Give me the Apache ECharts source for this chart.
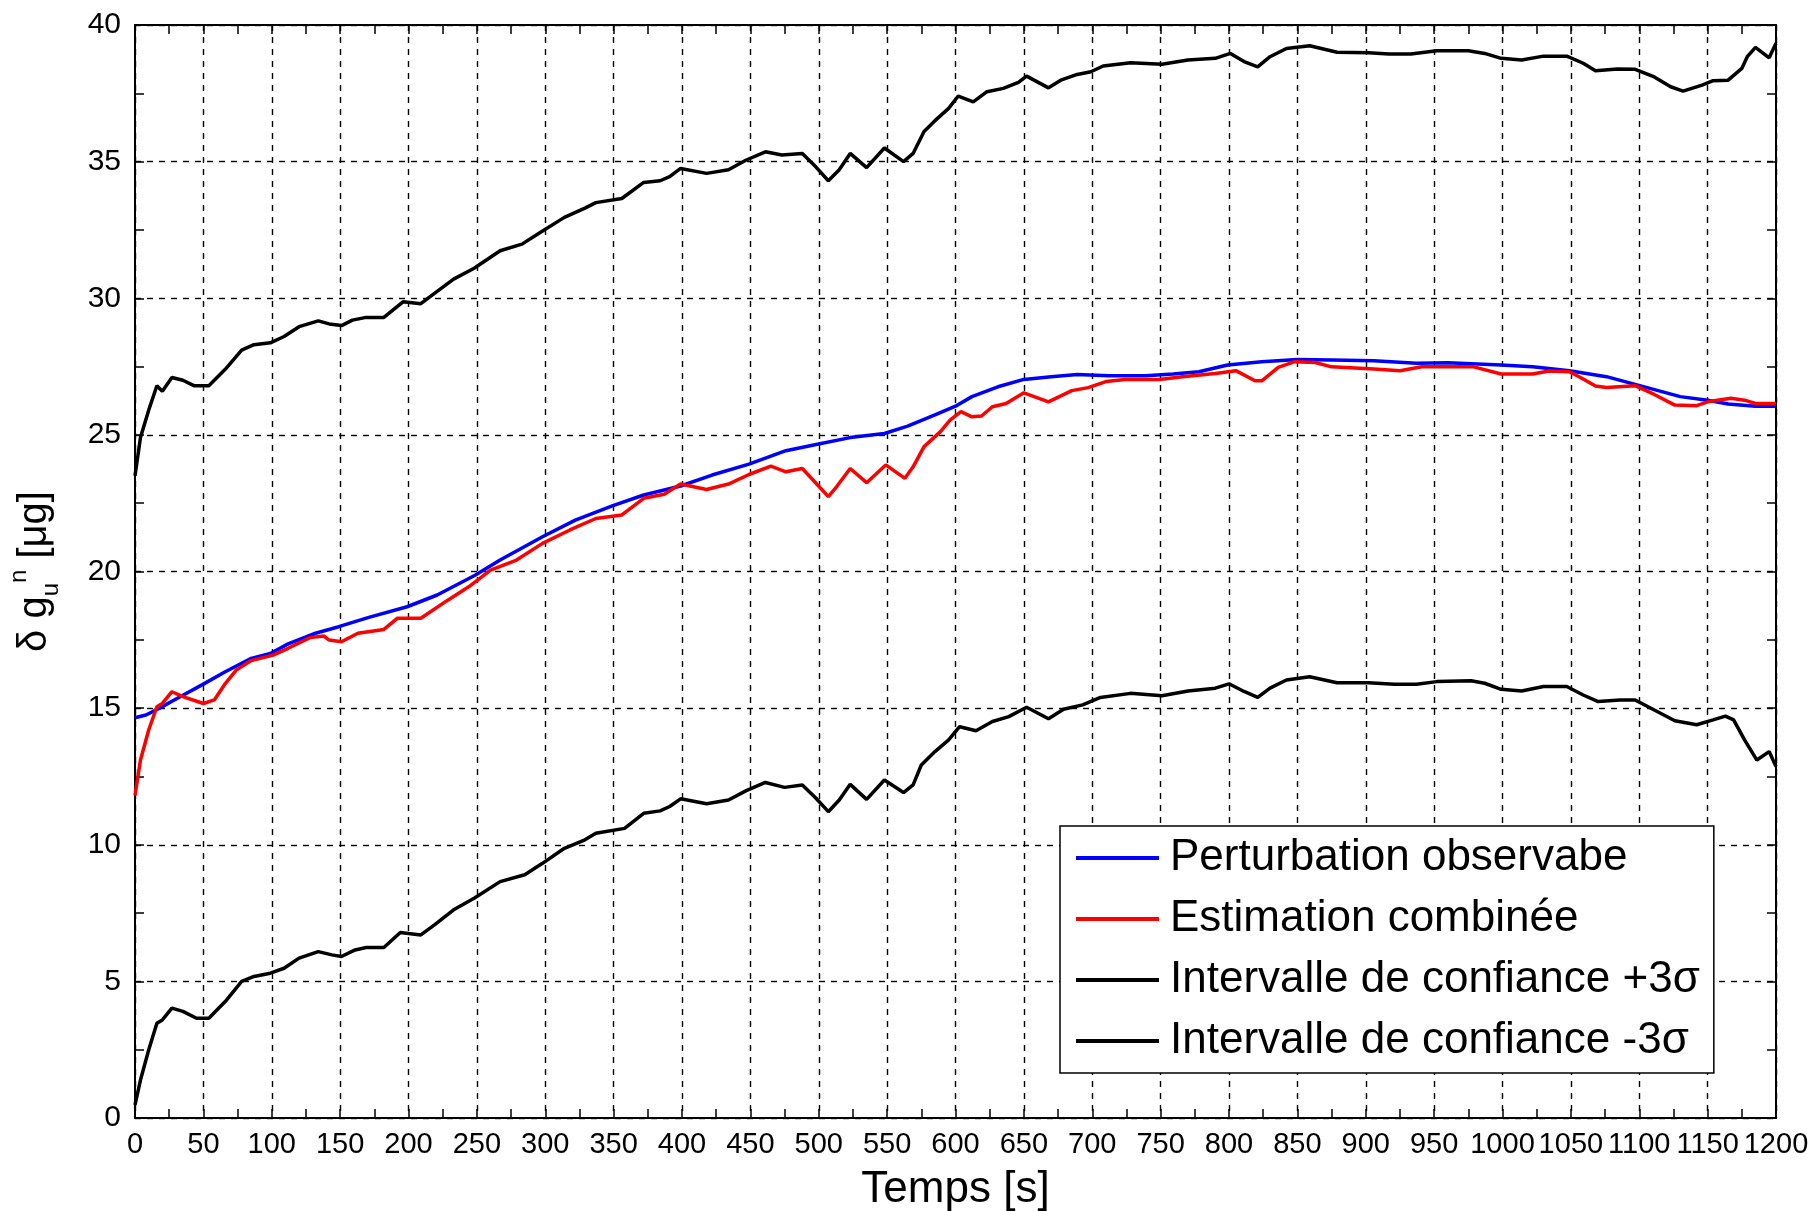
<!DOCTYPE html>
<html>
<head>
<meta charset="utf-8">
<script src="https://cdn.jsdelivr.net/npm/echarts@6/dist/echarts.min.js"></script>
<style>
  html, body { margin: 0; padding: 0; background: #fff; }
  #main { width: 1811px; height: 1211px; }
</style>
</head>
<body>
<div id="main"></div>
<script>
// values (time in s, value in µg)
var blueT = [0, 8, 18, 31, 49, 66, 85, 99, 112, 132, 149, 171, 199, 221, 249, 267, 298, 322, 349, 372, 399, 422, 449, 476, 499, 523, 548, 565, 585, 600, 612, 631, 650, 670, 689, 712, 739, 759, 778, 799, 824, 850, 875, 906, 937, 960, 999, 1022, 1049, 1076, 1099, 1130, 1150, 1165, 1185, 1200];
var blueV = [14.65, 14.75, 15.0, 15.36, 15.85, 16.33, 16.82, 17.0, 17.35, 17.74, 17.98, 18.32, 18.71, 19.14, 19.87, 20.42, 21.27, 21.88, 22.4, 22.8, 23.13, 23.53, 23.93, 24.42, 24.66, 24.9, 25.05, 25.32, 25.73, 26.05, 26.4, 26.76, 27.03, 27.13, 27.21, 27.16, 27.16, 27.23, 27.31, 27.56, 27.68, 27.76, 27.74, 27.71, 27.62, 27.64, 27.56, 27.49, 27.35, 27.13, 26.82, 26.4, 26.27, 26.13, 26.05, 26.05];

var redT = [0, 4, 10, 16, 20, 27, 35, 50, 58, 66, 74, 85, 101, 112, 128, 138, 142, 151, 163, 182, 192, 209, 229, 244, 260, 279, 298, 318, 337, 356, 372, 387, 399, 418, 434, 449, 465, 476, 488, 498, 507, 513, 523, 535, 549, 563, 569, 577, 589, 596, 604, 612, 619, 627, 637, 650, 668, 685, 697, 710, 724, 749, 766, 790, 805, 819, 824, 836, 848, 863, 875, 906, 925, 941, 979, 999, 1022, 1034, 1049, 1057, 1068, 1076, 1097, 1111, 1126, 1142, 1150, 1167, 1177, 1185, 1200];
var redV = [11.8, 13.1, 14.2, 15.05, 15.17, 15.6, 15.42, 15.17, 15.3, 15.9, 16.39, 16.74, 16.94, 17.19, 17.58, 17.64, 17.49, 17.43, 17.74, 17.88, 18.29, 18.29, 18.96, 19.44, 20.05, 20.42, 21.03, 21.52, 21.94, 22.07, 22.68, 22.83, 23.2, 23.0, 23.2, 23.55, 23.86, 23.65, 23.77, 23.23, 22.74, 23.1, 23.77, 23.25, 23.9, 23.41, 23.83, 24.57, 25.12, 25.54, 25.85, 25.66, 25.69, 26.03, 26.15, 26.54, 26.21, 26.62, 26.73, 26.95, 27.03, 27.03, 27.13, 27.25, 27.35, 26.98, 26.98, 27.47, 27.68, 27.65, 27.49, 27.41, 27.35, 27.49, 27.49, 27.23, 27.23, 27.34, 27.31, 27.1, 26.79, 26.73, 26.8, 26.48, 26.09, 26.07, 26.21, 26.34, 26.27, 26.15, 26.15];

var upperT = [0, 4, 10, 16, 20, 27, 35, 43, 54, 66, 78, 87, 99, 109, 120, 134, 142, 151, 159, 169, 182, 196, 209, 219, 233, 248, 267, 283, 296, 314, 329, 337, 356, 372, 384, 391, 399, 418, 434, 447, 461, 473, 488, 498, 507, 515, 523, 535, 548, 562, 569, 577, 585, 595, 602, 613, 623, 635, 646, 652, 668, 677, 689, 699, 708, 728, 751, 770, 790, 801, 811, 821, 830, 842, 859, 879, 902, 917, 933, 952, 975, 987, 999, 1014, 1030, 1047, 1059, 1068, 1084, 1097, 1111, 1123, 1132, 1146, 1154, 1165, 1175, 1179, 1185, 1195, 1200];
var upperV = [23.5, 24.9, 25.9, 26.8, 26.6, 27.1, 27.0, 26.8, 26.8, 27.4, 28.1, 28.3, 28.37, 28.6, 28.96, 29.17, 29.06, 29.0, 29.2, 29.3, 29.3, 29.87, 29.8, 30.18, 30.7, 31.1, 31.74, 31.98, 32.4, 32.96, 33.3, 33.5, 33.65, 34.24, 34.3, 34.45, 34.75, 34.57, 34.7, 35.06, 35.36, 35.24, 35.3, 34.8, 34.3, 34.7, 35.3, 34.78, 35.5, 35.0, 35.3, 36.1, 36.5, 36.95, 37.4, 37.19, 37.56, 37.68, 37.9, 38.13, 37.7, 37.98, 38.19, 38.29, 38.5, 38.62, 38.56, 38.72, 38.78, 38.96, 38.66, 38.47, 38.84, 39.14, 39.24, 39.0, 38.98, 38.94, 38.94, 39.06, 39.06, 38.96, 38.78, 38.72, 38.86, 38.86, 38.6, 38.33, 38.39, 38.38, 38.1, 37.74, 37.58, 37.8, 37.96, 37.98, 38.41, 38.84, 39.18, 38.8, 39.33];

var lowerT = [0, 4, 10, 16, 20, 27, 35, 45, 54, 66, 78, 87, 99, 109, 120, 134, 144, 151, 161, 169, 182, 194, 209, 219, 233, 248, 267, 285, 298, 314, 329, 337, 358, 372, 384, 391, 399, 418, 434, 447, 461, 475, 488, 498, 507, 515, 523, 535, 548, 562, 569, 575, 585, 595, 603, 615, 627, 639, 652, 668, 679, 693, 706, 728, 751, 770, 790, 800, 811, 821, 830, 842, 859, 879, 902, 921, 937, 952, 977, 987, 999, 1014, 1030, 1047, 1059, 1070, 1086, 1097, 1111, 1126, 1142, 1154, 1163, 1169, 1177, 1186, 1195, 1200];
var lowerV = [0.48, 1.39, 2.49, 3.47, 3.59, 4.02, 3.9, 3.65, 3.65, 4.26, 5.0, 5.18, 5.3, 5.48, 5.85, 6.09, 5.97, 5.91, 6.15, 6.24, 6.24, 6.79, 6.7, 7.07, 7.62, 8.04, 8.65, 8.9, 9.32, 9.87, 10.18, 10.42, 10.6, 11.15, 11.24, 11.4, 11.68, 11.5, 11.64, 11.98, 12.28, 12.1, 12.19, 11.7, 11.21, 11.64, 12.21, 11.66, 12.37, 11.91, 12.19, 12.92, 13.41, 13.84, 14.32, 14.17, 14.51, 14.69, 15.03, 14.61, 14.96, 15.12, 15.39, 15.54, 15.45, 15.63, 15.73, 15.89, 15.61, 15.39, 15.73, 16.03, 16.15, 15.93, 15.93, 15.87, 15.87, 15.97, 16.0, 15.91, 15.69, 15.63, 15.79, 15.79, 15.48, 15.24, 15.3, 15.3, 14.93, 14.54, 14.39, 14.57, 14.71, 14.57, 13.84, 13.1, 13.41, 12.86];

var names = ['Perturbation observabe', 'Estimation combinée', 'Intervalle de confiance +3σ', 'Intervalle de confiance -3σ'];

function zip(t, v) {
    var out = [];
    for (var i = 0; i < t.length; i++) out.push([t[i], v[i]]);
    return out;
}

var font = '"Liberation Sans", Arial, sans-serif';
var tickStyle = { color: '#000', width: 1.5 };
var gridDash = { color: '#000', width: 1.4, type: [6, 6] };

function xAx(pos, labels) {
    return {
        type: 'value', position: pos, min: 0, max: 1200, interval: 50,
        axisLine: { show: true, onZero: false, lineStyle: { color: '#000', width: 2 } },
        axisTick: { show: true, inside: true, length: 9, lineStyle: tickStyle },
        minorTick: { show: true, splitNumber: 2, length: 9, lineStyle: tickStyle },
        splitLine: { show: labels, lineStyle: gridDash },
        axisLabel: {
            show: labels, color: '#000', fontFamily: font, fontSize: 29, margin: 12,
            hideOverlap: false, showMinLabel: true, showMaxLabel: true,
            formatter: function (v) { return String(v); }
        },
        name: labels ? 'Temps [s]' : '',
        nameLocation: 'middle', nameGap: 50,
        nameTextStyle: { color: '#000', fontFamily: font, fontSize: 44 }
    };
}
function yAx(pos, labels) {
    return {
        type: 'value', position: pos, min: 0, max: 40, interval: 5,
        axisLine: { show: true, onZero: false, lineStyle: { color: '#000', width: 2 } },
        axisTick: { show: true, inside: true, length: 9, lineStyle: tickStyle },
        minorTick: { show: true, splitNumber: 2, length: 9, lineStyle: tickStyle },
        splitLine: { show: labels, lineStyle: gridDash },
        axisLabel: { show: labels, color: '#000', fontFamily: font, fontSize: 30, margin: 14 },
        name: labels ? '{a|δ g}{sub|u}{sup|n}{a| [μg]}' : '',
        nameLocation: 'middle', nameGap: 72, nameRotate: 90,
        nameTextStyle: {
            color: '#000', fontFamily: font, fontSize: 40,
            rich: {
                a: { fontFamily: font, fontSize: 40, color: '#000', lineHeight: 56 },
                sub: { fontFamily: font, fontSize: 24, color: '#000', verticalAlign: 'bottom', lineHeight: 56 },
                sup: { fontFamily: font, fontSize: 24, color: '#000', verticalAlign: 'top', lineHeight: 56 }
            }
        }
    };
}

function line(name, t, v, color) {
    return {
        name: name, type: 'line', data: zip(t, v),
        showSymbol: false, symbol: 'none', animation: false,
        lineStyle: { color: color, width: 3.5 }, itemStyle: { color: color }
    };
}

var chart = echarts.init(document.getElementById('main'));
chart.setOption({
    backgroundColor: '#fff',
    animation: false,
    grid: { left: 135, right: 35, top: 25, bottom: 93, outerBoundsMode: 'none', containLabel: false },
    xAxis: [xAx('bottom', true), xAx('top', false)],
    yAxis: [yAx('left', true), yAx('right', false)],
    legend: {
        orient: 'vertical', left: 1060, top: 826,
        padding: [7, 14, 7, 16],
        backgroundColor: '#fff', borderColor: '#000', borderWidth: 1.5, borderRadius: 0,
        itemWidth: 83, itemHeight: 4, itemGap: 11, icon: 'rect',
        textStyle: { color: '#000', fontFamily: font, fontSize: 44, lineHeight: 50, padding: [0, 0, 0, 6] },
        data: names
    },
    series: [
        line(names[0], blueT, blueV, '#0000ff'),
        line(names[1], redT, redV, '#ff0000'),
        line(names[2], upperT, upperV, '#000'),
        line(names[3], lowerT, lowerV, '#000')
    ]
});
</script>
</body>
</html>
